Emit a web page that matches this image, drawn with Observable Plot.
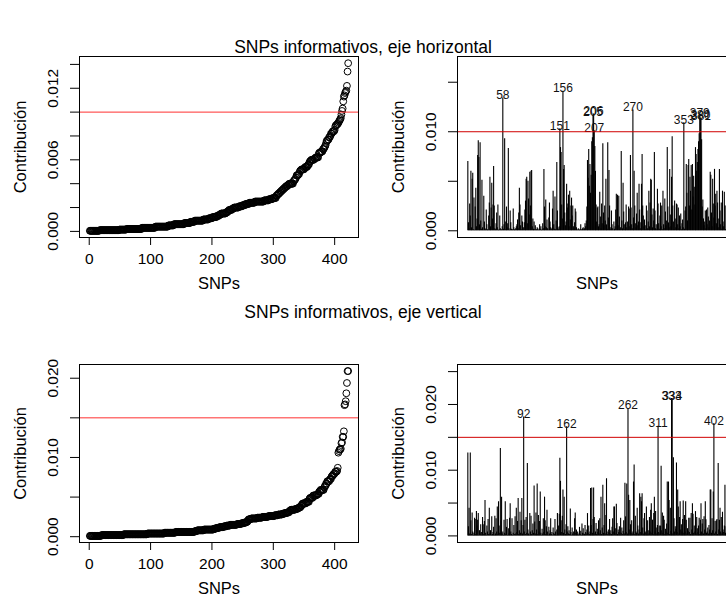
<!DOCTYPE html>
<html><head><meta charset="utf-8">
<script src="https://cdn.jsdelivr.net/npm/d3@7"></script>
<script src="https://cdn.jsdelivr.net/npm/@observablehq/plot@0.6"></script>
<style>
html,body{margin:0;padding:0;background:#fff;overflow:hidden;}
#wrap{position:relative;width:726px;height:599px;overflow:hidden;font-family:"Liberation Sans",Arial,Helvetica,sans-serif;background:#fff;}
.title{position:absolute;left:0;width:726px;text-align:center;font-size:17.5px;line-height:20px;color:#000;}
.panel{position:absolute;width:363px;}
</style></head>
<body><div id="wrap"></div>
<script>
// ---------- data ----------
const titles = ["SNPs informativos, eje horizontal", "SNPs informativos, eje vertical"];
const xLabel = "SNPs";
const yLabel = "Contribución";
const thresholdH = 0.010;
const thresholdV = 0.015;
// contributions per SNP (units of 1e-5), SNP index = position + 1
const contribH = [
700,80,20,270,150,600,30,520,580,10,
330,5,240,430,40,120,760,910,740,60,
890,100,15,510,30,5,350,90,20,10,
210,60,10,5,150,280,540,40,230,480,
120,260,650,250,20,10,70,180,30,260,
5,10,150,20,5,10,40,1340,15,60,
930,90,10,240,30,70,830,20,5,200,
80,15,5,10,220,30,10,5,20,40,
60,110,20,180,430,260,50,10,150,90,
10,30,80,210,300,520,540,70,500,320,
160,590,250,600,610,40,120,15,90,10,
50,5,10,30,20,5,10,60,15,40,
5,10,70,20,620,240,40,310,30,110,
20,5,130,280,90,30,10,20,220,400,
60,15,340,10,100,690,200,30,10,40,
1030,840,790,260,120,1410,620,660,180,50,
90,470,230,270,360,40,400,110,250,330,
150,250,40,20,80,220,190,30,10,5,
20,10,5,15,60,10,5,20,30,10,
20,70,40,100,240,710,530,820,450,670,
380,560,900,940,1170,1180,1010,850,600,260,
90,230,240,40,60,390,140,20,270,70,
880,180,50,250,100,520,60,15,890,130,
610,250,30,10,200,60,20,5,90,15,
40,210,370,110,360,50,350,140,10,30,
800,100,20,480,190,60,10,80,260,30,
90,10,240,220,40,760,230,60,20,1220,
130,600,250,70,30,170,380,50,90,470,
210,20,80,470,770,250,150,40,110,10,
50,250,200,20,90,400,40,280,520,510,
160,30,220,100,790,200,20,60,10,420,
270,70,15,150,280,40,250,10,400,60,
20,320,190,50,100,840,240,80,30,620,
160,40,540,950,250,90,10,300,120,30,
270,260,60,230,20,150,40,170,10,70,
110,30,1090,15,200,240,670,380,100,660,
720,250,540,400,660,210,670,340,550,440,
260,840,770,600,690,820,900,980,1160,1140,
1130,920,240,310,120,50,90,200,20,210,
60,230,140,30,100,590,560,180,40,520,
270,130,620,250,370,70,400,280,30,120,
620,200,60,280,15,400,90,40,390,250,
10,250
];
const contribV = [
1260,140,420,30,1260,230,20,350,60,10,
40,270,250,20,370,150,240,340,10,80,
30,170,50,10,280,170,20,220,540,40,
10,150,60,250,20,420,30,80,10,290,
20,50,130,10,300,30,260,60,440,20,
520,150,40,1330,230,590,30,60,10,240,
40,520,20,130,250,10,110,30,270,490,
60,20,260,10,40,160,20,290,30,420,
50,220,570,20,80,360,40,230,570,30,
160,1810,60,240,20,280,40,1100,90,30,
10,340,60,300,20,80,180,40,760,210,
30,350,90,790,20,310,60,220,670,40,
10,100,30,260,50,590,230,20,140,390,
60,10,130,30,80,260,20,50,10,120,
40,20,250,60,10,90,340,30,150,330,
1180,830,230,50,300,700,40,590,90,20,
170,1660,60,140,30,80,20,410,50,10,
120,30,60,10,260,350,40,90,20,60,
10,30,130,20,70,10,180,40,110,30,
20,160,50,30,90,340,40,150,20,60,
720,160,730,40,250,730,280,30,60,190,
20,100,50,230,30,260,80,590,20,120,
770,40,160,490,30,310,870,60,20,90,
50,250,30,80,20,130,260,60,440,440,
30,110,480,190,20,90,50,140,10,270,
40,120,20,70,230,30,800,290,50,790,
30,1940,620,90,540,170,40,230,30,60,
820,1080,20,300,60,40,420,150,30,90,
640,50,590,520,640,120,30,260,340,40,
60,440,20,230,80,30,280,60,390,490,
40,240,20,340,590,60,370,120,30,160,
1670,50,150,30,150,1060,80,350,40,300,
240,20,100,60,180,820,40,820,540,20,
420,70,2090,2090,30,1190,260,60,140,100,
1110,50,700,440,30,280,520,90,170,60,
250,530,40,310,60,520,240,30,110,70,
270,50,270,20,340,90,490,330,40,150,
60,370,30,280,110,50,150,270,20,240,
490,60,180,250,30,290,90,520,245,40,
60,120,30,160,90,700,700,40,260,80,
670,1710,30,220,60,230,250,20,1100,90,
240,420,60,280,30,360,90,50,150,770,
40,140
];
const xTicks = [0, 100, 200, 300, 400];
const yTicksHsorted = [0, 0.002, 0.004, 0.006, 0.008, 0.010, 0.012, 0.014];
const yLabelsHsorted = [0, 0.006, 0.012];
const yTicksHbars = [0, 0.005, 0.010, 0.015];
const yLabelsHbars = [0, 0.010];
const yTicksVsorted = [0, 0.005, 0.010, 0.015, 0.020];
const yLabelsVsorted = [0, 0.010, 0.020];
const yTicksVbars = [0, 0.005, 0.010, 0.015, 0.020, 0.025];
const yLabelsVbars = [0, 0.010, 0.020];

// ---------- helpers ----------
const FONT = '"Liberation Sans", Arial, Helvetica, sans-serif';
const fmt = d3.format(".3f");
const bySnp = arr => arr.map((v, k) => ({i: k + 1, v: v / 1e5}));
const sortedRows = arr => d3.sort(arr).map((v, k) => ({i: k + 1, v: v / 1e5}));
const ext = (lo, hi) => { const s = hi - lo; return [lo - 0.04 * s, hi + 0.04 * s]; };

function panel({rows, kind, yTicks, yLabels, thr, top, left, height, marginTop, marginBottom}) {
  const n = rows.length;
  const xDomain = ext(1, n);
  const vals = rows.map(d => d.v);
  const yDomain = kind === "sorted" ? ext(d3.min(vals), d3.max(vals)) : ext(0, 1.2 * d3.max(vals));
  const marks = [];
  if (kind === "sorted") {
    marks.push(Plot.dot(rows, {x: "i", y: "v", r: 3.4, stroke: "black", strokeWidth: 1, fill: "none"}));
    marks.push(Plot.axisX({ticks: xTicks, tickSize: 8, tickPadding: 7, tickFormat: d => String(d), label: null, fontSize: 15.5}));
    marks.push(Plot.ruleY([thr], {stroke: "#ff3030", strokeWidth: 1}));
  } else {
    marks.push(Plot.ruleX(rows, {x: "i", y1: 0, y2: "v", stroke: "black", strokeWidth: 1.1}));
    marks.push(Plot.text(rows.filter(d => d.v > thr), {x: "i", y: "v", text: d => String(d.i), lineAnchor: "bottom", dy: 1, fontSize: 12, fill: "#111"}));
    marks.push(Plot.ruleY([thr], {stroke: "#d00000", strokeWidth: 1}));
  }
  marks.push(
    Plot.frame({stroke: "black", strokeWidth: 1}),
    Plot.axisY({ticks: yTicks, tickSize: 9, tickFormat: () => "", label: null}),
    Plot.text(yLabels, {y: d => d, text: d => fmt(d), frameAnchor: "left", dx: -26, rotate: -90, textAnchor: "middle", lineAnchor: "middle", fontSize: 15.5}),
    Plot.text([yLabel], {frameAnchor: "left", dx: -59, rotate: -90, textAnchor: "middle", lineAnchor: "middle", fontSize: 16.5}),
    Plot.text([xLabel], {frameAnchor: "bottom", dy: 46, textAnchor: "middle", lineAnchor: "middle", fontSize: 16.5})
  );
  const svg = Plot.plot({
    width: 363, height, marginLeft: 79, marginRight: 5, marginTop, marginBottom,
    x: {domain: xDomain, axis: null, label: null},
    y: {domain: yDomain, axis: null, label: null},
    style: {fontFamily: FONT, fontSize: "15.5px", background: "transparent", color: "black"},
    marks
  });
  const div = document.createElement("div");
  div.className = "panel";
  div.style.left = left + "px";
  div.style.top = top + "px";
  div.appendChild(svg);
  return div;
}

const wrap = document.getElementById("wrap");
[[titles[0], 37], [titles[1], 302]].forEach(([t, y]) => {
  const d = document.createElement("div");
  d.className = "title"; d.style.top = y + "px"; d.textContent = t;
  wrap.appendChild(d);
});
const H = bySnp(contribH), V = bySnp(contribV);
wrap.appendChild(panel({rows: sortedRows(contribH), kind: "sorted", yTicks: yTicksHsorted, yLabels: yLabelsHsorted, thr: thresholdH, top: 40, left: 0, height: 260, marginTop: 16, marginBottom: 63}));
wrap.appendChild(panel({rows: H, kind: "bars", yTicks: yTicksHbars, yLabels: yLabelsHbars, thr: thresholdH, top: 40, left: 378, height: 260, marginTop: 16, marginBottom: 63}));
wrap.appendChild(panel({rows: sortedRows(contribV), kind: "sorted", yTicks: yTicksVsorted, yLabels: yLabelsVsorted, thr: thresholdV, top: 330, left: 0, height: 269, marginTop: 34, marginBottom: 57}));
wrap.appendChild(panel({rows: V, kind: "bars", yTicks: yTicksVbars, yLabels: yLabelsVbars, thr: thresholdV, top: 330, left: 378, height: 269, marginTop: 34, marginBottom: 57}));
</script>
</body></html>
